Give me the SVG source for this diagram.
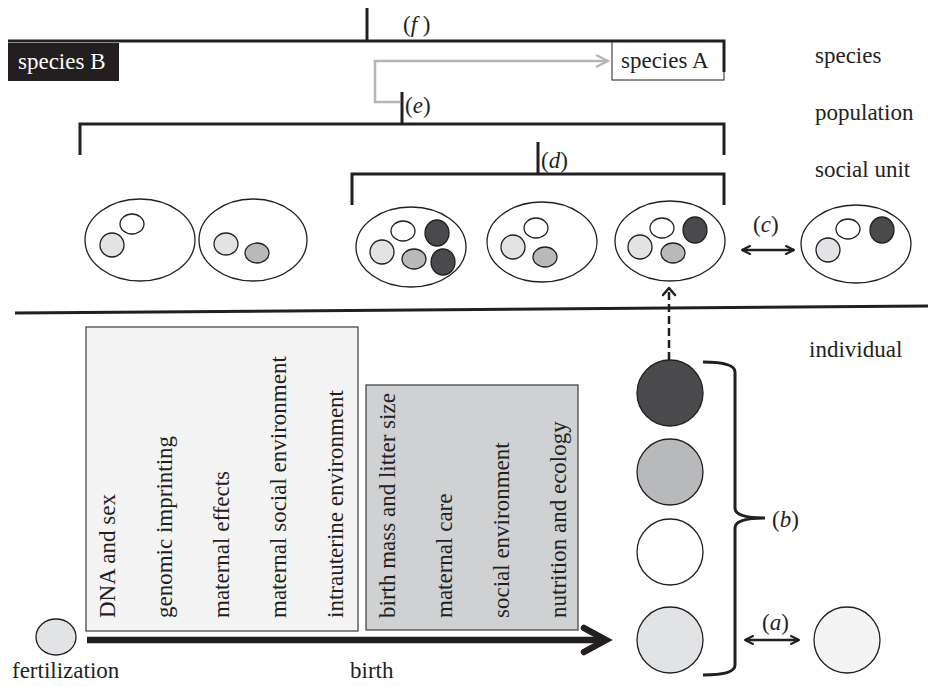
<svg xmlns="http://www.w3.org/2000/svg" width="928" height="686" viewBox="0 0 928 686">
<style>
text{font-family:'Liberation Serif','Times New Roman','DejaVu Serif',serif;font-size:23px;fill:#231f20}
.ln{stroke:#231f20;stroke-width:3;fill:none}
.th{stroke:#231f20;stroke-width:1.3}
.cell{stroke:#231f20;stroke-width:1.3}
.lt{fill:#e2e3e5}.md{fill:#b8b9bb}.dk{fill:#4a4a4c}.wh{fill:#ffffff}
.it{font-style:italic}
</style>
<defs>
<marker id="ah" viewBox="0 0 10 10" refX="9" refY="5" markerWidth="4" markerHeight="4" orient="auto-start-reverse" markerUnits="strokeWidth">
<path d="M1,1 L9,5 L1,9" fill="none" stroke="#231f20" stroke-width="2" stroke-linecap="round" stroke-linejoin="round"/>
</marker>
<marker id="ahg" viewBox="0 0 10 10" refX="9" refY="5" markerWidth="6" markerHeight="6" orient="auto" markerUnits="strokeWidth">
<path d="M1,1 L9,5 L1,9" fill="none" stroke="#b5b6b8" stroke-width="1.5"/>
</marker>
</defs>

<rect width="928" height="686" fill="#ffffff"/>

<g id="labels" font-family="Liberation Serif, serif">
<text x="815" y="63">species</text>
<text x="815" y="120">population</text>
<text x="815" y="177">social unit</text>
<text x="809" y="357">individual</text>
<text x="12" y="678">fertilization</text>
<text x="350" y="678">birth</text>
</g>

<g id="speciesB">
<rect x="8" y="43" width="111" height="38" fill="#231f20"/>
<text x="18" y="69" style="fill:#ffffff">species B</text>
</g>
<g id="speciesA">
<rect x="612" y="41" width="112" height="39" fill="#ffffff" stroke="#231f20" stroke-width="1"/>
<text x="621" y="68">species A</text>
</g>

<g id="connectors">
<path class="ln" d="M8,41 H724 V72"/>
<path class="ln" d="M367,8 V41"/>
<path d="M400,102 H375 V61 H608" fill="none" stroke="#b5b6b8" stroke-width="2.5" marker-end="url(#ahg)"/>
<path class="ln" d="M80,155 V124 H724 V155"/>
<path class="ln" d="M402,92 V124"/>
<path class="ln" d="M352,205 V174 H724 V205"/>
<path class="ln" d="M538,142 V174"/>
<path d="M15,313 L928,306" stroke="#231f20" stroke-width="3" fill="none"/>
<path d="M669,360 V290" stroke="#231f20" stroke-width="2.5" stroke-dasharray="8,4" fill="none"/>
<path d="M663,295 L669,288 L675,295" stroke="#231f20" stroke-width="2.5" fill="none" stroke-linecap="round" stroke-linejoin="round"/>
<path d="M742,250 H794" stroke="#231f20" stroke-width="2.5" fill="none" marker-start="url(#ah)" marker-end="url(#ah)"/>
<path d="M745,640 H799" stroke="#231f20" stroke-width="2.5" fill="none" marker-start="url(#ah)" marker-end="url(#ah)"/>
<path d="M87,640 H604" stroke="#231f20" stroke-width="6.5" fill="none"/>
<path d="M584,628 L606,640 L584,652" stroke="#231f20" stroke-width="6.5" fill="none" stroke-linecap="round"/>
<path d="M703,362 Q735,362 735,372 V508 Q735,518 765,518 Q735,518 735,528 V665 Q735,675 703,675" stroke="#231f20" stroke-width="3" fill="none"/>
</g>

<g id="branchLabels">
<text x="403" y="32">(<tspan class="it">f</tspan> )</text>
<text x="405" y="113">(<tspan class="it">e</tspan>)</text>
<text x="541" y="168">(<tspan class="it">d</tspan>)</text>
<text x="753" y="232">(<tspan class="it">c</tspan>)</text>
<text x="772" y="527">(<tspan class="it">b</tspan>)</text>
<text x="762" y="630">(<tspan class="it">a</tspan>)</text>
</g>

<g id="unit1">
<ellipse cx="140" cy="240" rx="55" ry="41" fill="#fff" class="th"/>
<ellipse cx="132" cy="224" rx="12" ry="10" class="cell wh"/>
<ellipse cx="112" cy="245" rx="12" ry="12" class="cell lt"/>
</g>
<g id="unit2">
<ellipse cx="253" cy="240" rx="54" ry="41" fill="#fff" class="th"/>
<ellipse cx="226" cy="244" rx="12" ry="11" class="cell lt"/>
<ellipse cx="257" cy="253" rx="12" ry="10" class="cell md"/>
</g>
<g id="unit3">
<ellipse cx="411" cy="247" rx="55" ry="40" fill="#fff" class="th"/>
<ellipse cx="403" cy="231" rx="12" ry="10" class="cell wh"/>
<ellipse cx="437" cy="233" rx="12" ry="13" class="cell dk"/>
<ellipse cx="382" cy="252" rx="12" ry="12" class="cell lt"/>
<ellipse cx="414" cy="259" rx="12" ry="10" class="cell md"/>
<ellipse cx="443" cy="262" rx="12" ry="13" class="cell dk"/>
</g>
<g id="unit4">
<ellipse cx="542" cy="242" rx="55" ry="40" fill="#fff" class="th"/>
<ellipse cx="536" cy="228" rx="12" ry="10" class="cell wh"/>
<ellipse cx="513" cy="247" rx="12" ry="12" class="cell lt"/>
<ellipse cx="545" cy="257" rx="12" ry="10" class="cell md"/>
</g>
<g id="unit5">
<ellipse cx="670" cy="241" rx="55" ry="40" fill="#fff" class="th"/>
<ellipse cx="662" cy="228" rx="12" ry="10" class="cell wh"/>
<ellipse cx="695" cy="230" rx="12" ry="13" class="cell dk"/>
<ellipse cx="640" cy="247" rx="12" ry="12" class="cell lt"/>
<ellipse cx="673" cy="253" rx="12" ry="10" class="cell md"/>
</g>
<g id="unit6">
<ellipse cx="856" cy="244" rx="55" ry="39" fill="#fff" class="th"/>
<ellipse cx="848" cy="229" rx="12" ry="10" class="cell wh"/>
<ellipse cx="882" cy="230" rx="12" ry="13" class="cell dk"/>
<ellipse cx="828" cy="250" rx="12" ry="12" class="cell lt"/>
</g>

<g id="prenatal">
<rect x="86" y="327" width="272" height="304" fill="#f4f4f4" stroke="#3a3a3a" stroke-width="1.2"/>
<text transform="translate(115,618) rotate(-90)">DNA and sex</text>
<text transform="translate(172,618) rotate(-90)">genomic imprinting</text>
<text transform="translate(229,618) rotate(-90)">maternal effects</text>
<text transform="translate(286,618) rotate(-90)">maternal social environment</text>
<text transform="translate(343,618) rotate(-90)">intrauterine environment</text>
</g>
<g id="postnatal">
<rect x="366" y="385" width="212" height="245" fill="#d0d1d3" stroke="#3a3a3a" stroke-width="1.2"/>
<text transform="translate(395,618) rotate(-90)">birth mass and litter size</text>
<text transform="translate(452,618) rotate(-90)">maternal care</text>
<text transform="translate(509,618) rotate(-90)">social environment</text>
<text transform="translate(566,618) rotate(-90)">nutrition and ecology</text>
</g>

<g id="fertilization">
<ellipse cx="56" cy="637" rx="20" ry="18" class="cell lt"/>
</g>
<g id="ind1"><circle cx="670" cy="393" r="33" class="cell dk"/></g>
<g id="ind2"><circle cx="670" cy="472" r="33" class="cell md"/></g>
<g id="ind3"><circle cx="670" cy="552" r="33" class="cell wh"/></g>
<g id="ind4"><circle cx="670" cy="640" r="33" class="cell lt"/></g>
<g id="ind5"><circle cx="847" cy="640" r="33" fill="#f4f4f4" class="cell"/></g>
</svg>
